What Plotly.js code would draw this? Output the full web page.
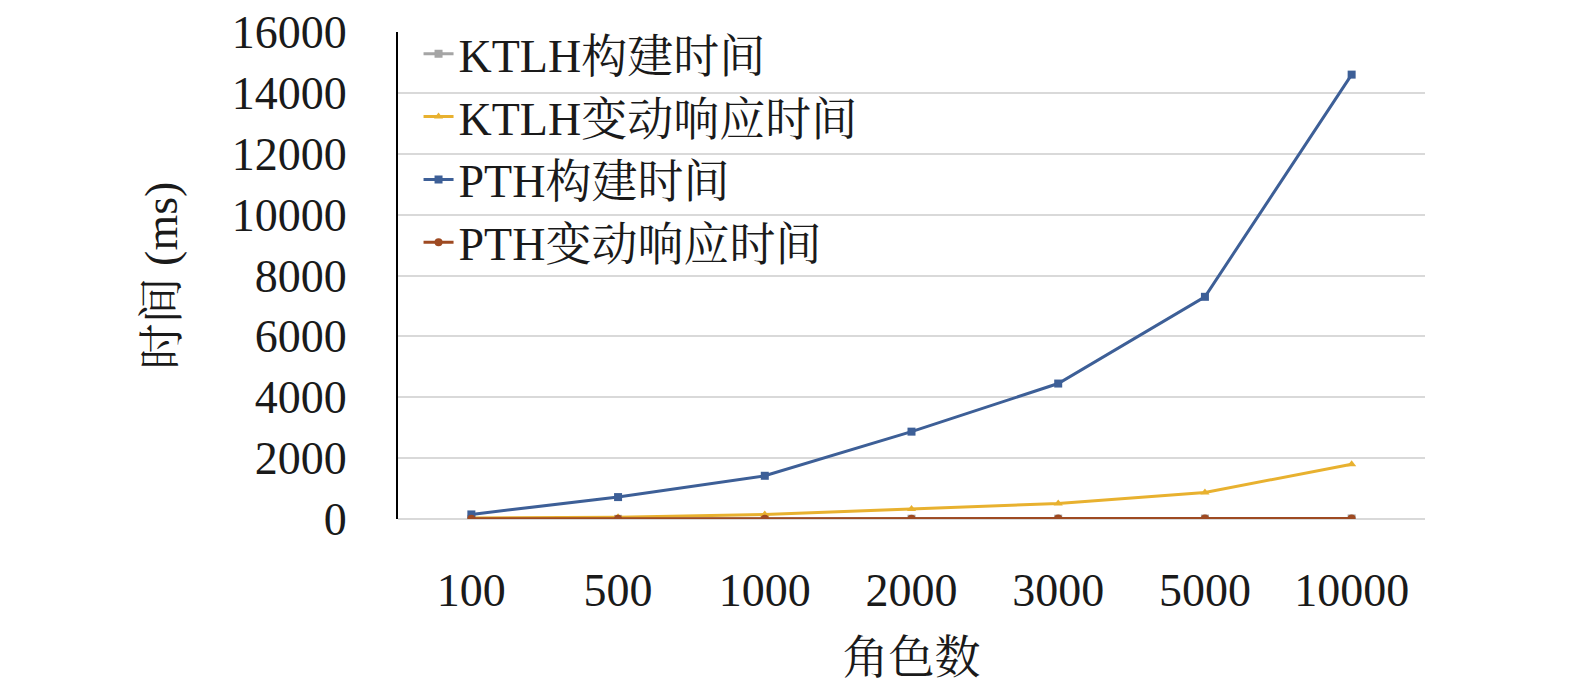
<!DOCTYPE html>
<html><head><meta charset="utf-8">
<script src="https://cdn.plot.ly/plotly-3.0.1.min.js"></script>
<style>body{margin:0;background:#fff}</style>
</head><body>
<div id="chart" style="width:1575px;height:695px"></div>
<script>
// 角色数
var roles = ['100', '500', '1000', '2000', '3000', '5000', '10000'];
var ktlhBuild = [3, 5, 8, 10, 12, 15, 18];
var ktlhChange = [30, 60, 150, 330, 510, 870, 1800];
var pthBuild = [150, 720, 1420, 2870, 4450, 7300, 14600];
var pthChange = [5, 8, 10, 12, 15, 18, 20];

var serif = 'Liberation Serif, Times New Roman, Noto Serif CJK SC, Noto Sans CJK SC, serif';

function mk(name, y, color, sym) {
  return {
    x: roles, y: y, name: name, type: 'scatter', mode: 'lines+markers',
    line: {color: color, width: 3},
    marker: {color: color, size: 8, symbol: sym}
  };
}

var data = [
  mk('KTLH构建时间', ktlhBuild, '#a5a5a5', 'square'),
  mk('KTLH变动响应时间', ktlhChange, '#e8b12f', 'triangle-up'),
  mk('PTH构建时间', pthBuild, '#3d5f97', 'square'),
  mk('PTH变动响应时间', pthChange, '#9e4a22', 'circle')
];

var layout = {
  width: 1575, height: 695,
  margin: {l: 398, r: 150, t: 32, b: 176},
  paper_bgcolor: '#fff', plot_bgcolor: '#fff',
  font: {family: serif, size: 46, color: '#1a1a1a'},
  showlegend: true,
  legend: {x: 0.02, y: 1.03, xanchor: 'left', yanchor: 'top',
           bgcolor: 'rgba(0,0,0,0)', font: {size: 46}, tracegroupgap: 0},
  xaxis: {
    type: 'category', range: [-0.5, 6.5],
    showgrid: false, showline: false, ticks: '', ticklabelstandoff: 40,
    tickfont: {size: 46},
    title: {text: '角色数', font: {size: 46}, standoff: 25}
  },
  yaxis: {
    range: [0, 16000], dtick: 2000, tickformat: 'd',
    showgrid: true, gridcolor: '#d9d9d9', gridwidth: 2,
    zeroline: true, zerolinecolor: '#d9d9d9', zerolinewidth: 2,
    showline: true, linecolor: '#000', linewidth: 2, ticks: '', ticklabelstandoff: 40,
    tickfont: {size: 46},
    title: {text: '时间 (ms)', font: {size: 46}, standoff: 40}
  }
};

Plotly.newPlot('chart', data, layout, {displayModeBar: false});
</script>
</body></html>
